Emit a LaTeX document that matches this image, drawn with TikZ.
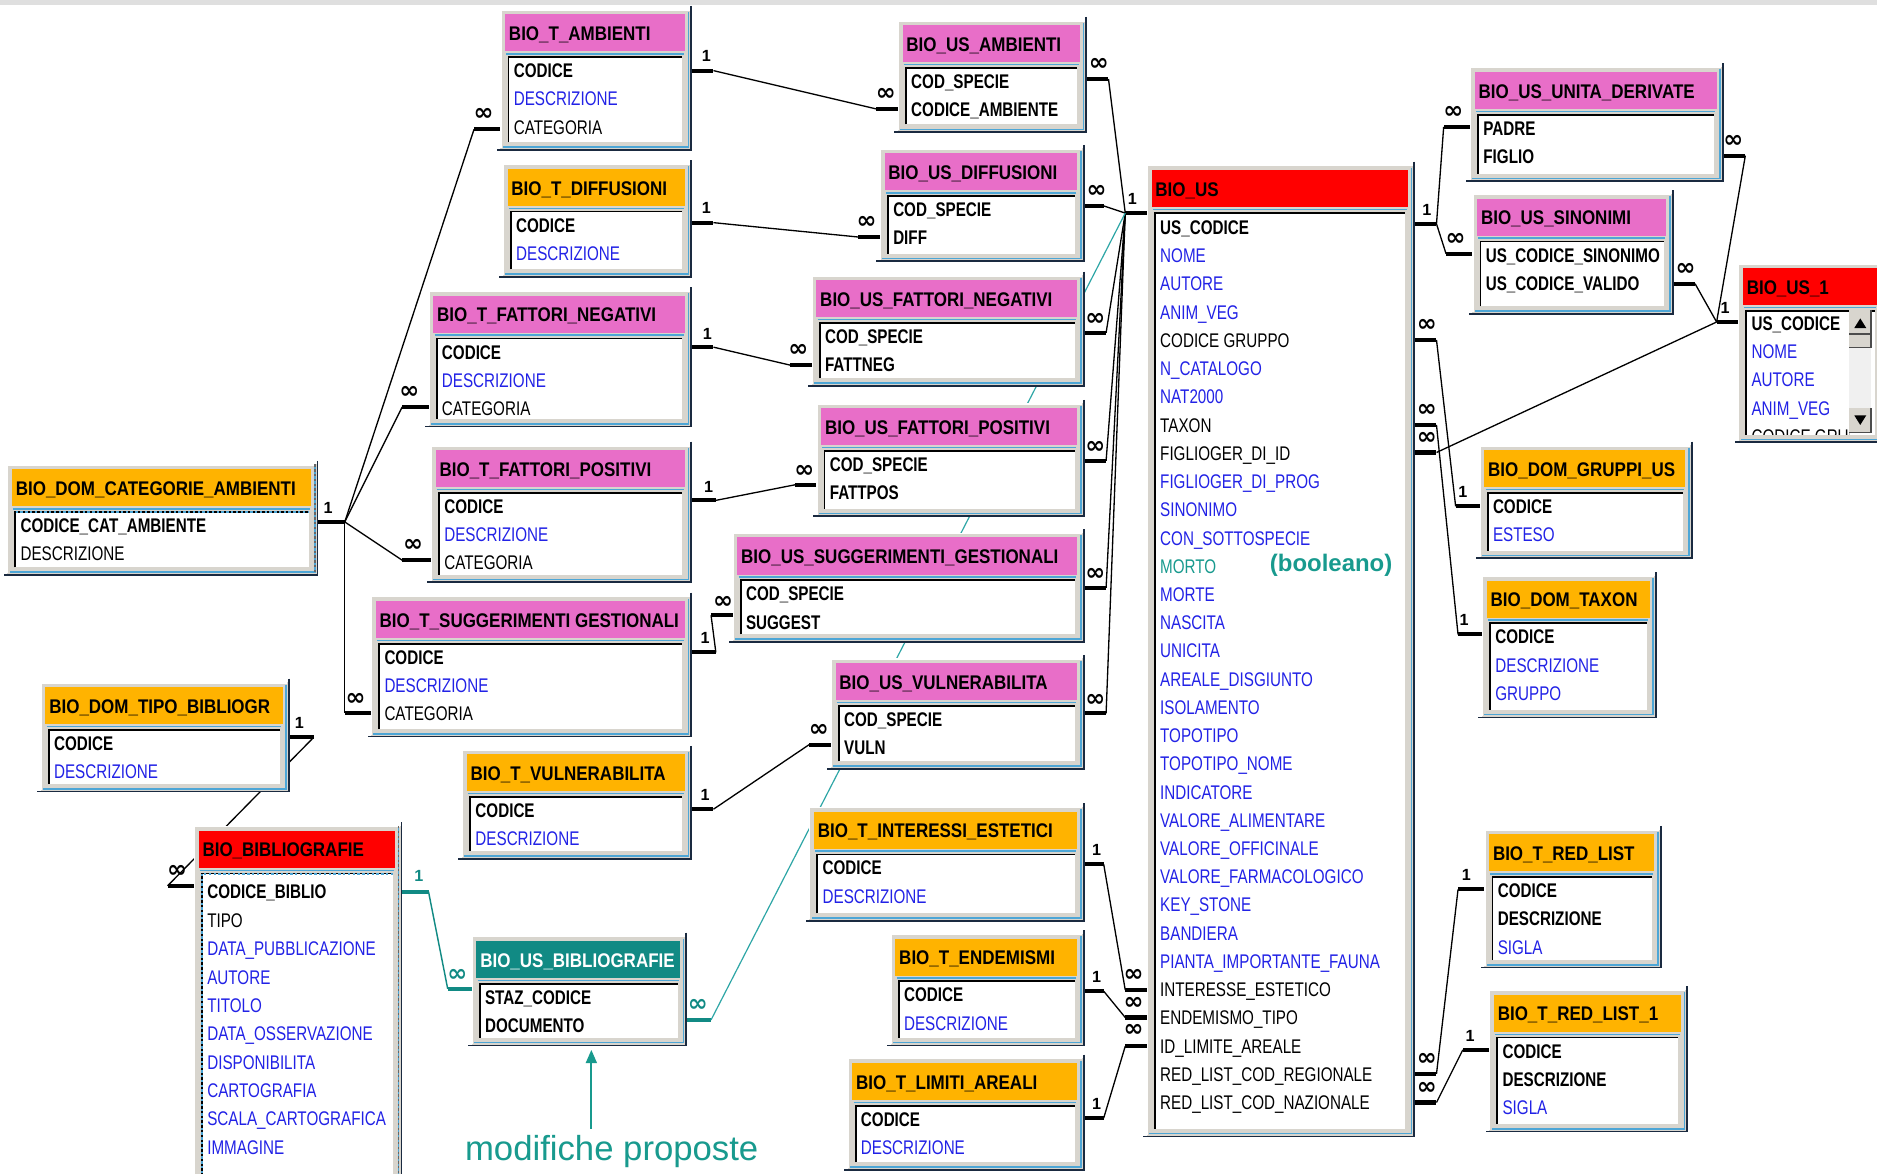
\documentclass[tikz,border=0pt]{standalone}
\usepackage{fontspec}
\setmainfont{Liberation Sans}
\newfontfamily\fldfont[FakeStretch=0.77]{Liberation Sans}
\newfontfamily\ttlfont[FakeStretch=0.86]{Liberation Sans}
\newfontfamily\infont{DejaVu Sans}
\usetikzlibrary{arrows.meta}
\definecolor{framegray}{HTML}{D8D5CE}
\definecolor{tpink}{HTML}{E86EC8}
\definecolor{torange}{HTML}{FFB300}
\definecolor{tred}{HTML}{FF0000}
\definecolor{tteal}{HTML}{118A84}
\definecolor{lblue}{HTML}{4DA6D6}
\definecolor{fblue}{HTML}{2222E6}
\definecolor{tealtxt}{HTML}{189A8E}
\definecolor{tealline}{HTML}{2EA6A6}
\definecolor{edgedark}{HTML}{1A2A40}
\tikzset{
 fld/.style={anchor=west, inner sep=0pt, text height=11.8pt, text depth=0pt, font={\fldfont\fontsize{16.5}{18}\selectfont}},
 fk/.style={text=black, font={\fldfont\fontsize{16.5}{18}\selectfont\bfseries}},
 fb/.style={text=fblue},
 fn/.style={text=black},
 ft/.style={text=tealtxt},
 ttl/.style={anchor=west, inner sep=0pt, text height=11.8pt, text depth=0pt, font={\ttlfont\fontsize{16.5}{18}\selectfont\bfseries}},
 stub/.style={line width=3.4pt},
 rel/.style={line width=1.1pt, black},
 trel/.style={line width=1pt, tealline},
 onel/.style={inner sep=0pt, font={\fontsize{13.5}{15}\selectfont\bfseries}},
 infl/.style={inner sep=0pt, font={\infont\fontsize{20}{21}\selectfont\bfseries}},
}
\newcommand\rowstart{51}
\newcommand\rowsep{23.6}
\newcommand\dbt[9]{%
  \fill[framegray] (#2,#3) rectangle (#4,#5);
  \draw[white, line width=1pt] ({#2+0.5},{#5-2}) -- ({#2+0.5},{#3+0.5}) -- ({#4-2},{#3+0.5});
  \fill[#6] ({#2+4},{#3+4}) rectangle ({#4-6},{#3+35});
  \draw[lblue, line width=1.3pt] ({#2+5},{#3+37}) -- ({#4-7},{#3+37});
  \fill[white] ({#2+6},{#3+39}) rectangle ({#4-8},{#5-7});
  \draw[black, line width=1.5pt] ({#2+6.75},{#5-7}) -- ({#2+6.75},{#3+39.75}) -- ({#4-8},{#3+39.75});
  \draw[lblue, line width=1.3pt] ({#4-3},{#3+2}) -- ({#4-3},{#5-3}) -- ({#2+2},{#5-3});
  \draw[edgedark, line width=1.4pt] ({#4-0.7},{#3-3}) -- ({#4-0.7},{#5-0.7}) -- ({#2-3},{#5-0.7});
  \node[ttl, text=#7] (#1) at ({#2+7},{#3+20}) {#8};
  \foreach \fsty/\ftxt [count=\fno] in {#9} {%
    \node[fld,\fsty] (#1-\fno) at ({#2+11},{#3+\rowstart+(\fno-1)*\rowsep}) {\ftxt};
  }%
}
\begin{document}
\begin{tikzpicture}[x=1pt,y=-1pt]
\useasboundingbox (0,0) rectangle (1568,980);
\clip (0,0) rectangle (1568,980);
\fill[white] (0,0) rectangle (1568,980);
\fill[gray!25] (0,0) rectangle (1568,4);

% ---------- stubs (1 side) ----------
\foreach \sNm/\sIn/\sOut/\sY/\sLx/\sLy in {
  aT1/578/596/59/590/47, dT1/578/596/186/590/174, nT1/578/596/290/591/279,
  pT1/578/598/418/592/407, gT1/578/598/545/589/533, vT1/578/596/676/589/664,
  cat1/266/288/436/274/424, tip1/242/262/616/250/604, us1/958/940/178/946/166,
  ie1/906/922/722/916/710, en1/906/922/828/916/816, li1/906/922/934/916/922,
  usR1/1182/1200/187/1192/175, gr1/1236/1216/423/1222/411, tx1/1238/1218/530/1223/518,
  u11/1452/1434/269/1441/257, rl1/1240/1218/743/1225/731, rn1/1244/1222/877/1228/865} {
  \coordinate (\sNm-i) at (\sIn,\sY);
  \coordinate (\sNm-o) at (\sOut,\sY);
  \draw[stub] (\sNm-i) -- (\sNm-o);
  \node[onel] (\sNm-l) at (\sLx,\sLy) {1};
}
% ---------- stubs (many side) ----------
\foreach \sNm/\sIn/\sOut/\sY/\sLx/\sLy in {
  aU/750/732/91/740/79, dU/735/717/198/724/186, nU/678/660/305/667/293,
  pU/682/664/405/672/394, gU/612/594/514/604/503, vU/694/676/622/684/610,
  catA/418/396/108/404/96, catN/358/336/340/342/328, catP/360/336/468/345/456,
  catS/310/288/596/297/584, tipB/162/140/740/148/728,
  uA/908/926/66/918/54, uD/906/922/172/916/160, uN/906/924/278/915/267,
  uP/906/924/385/915/374, uS/906/924/491/915/480, uV/906/924/596/915/585,
  usIE/958/940/827/947/815, usEN/958/940/850/947/838, usLI/958/940/874/947/861,
  udL/1228/1206/106/1214/94, siL/1230/1208/212/1216/200,
  usGR/1182/1200/284/1192/272, usTX/1182/1200/355/1192/343, usFG/1182/1200/378/1192/366,
  udR/1440/1458/130/1448/118, siR/1398/1416/237/1408/225,
  usRR/1182/1200/897/1192/885, usRN/1182/1200/921/1192/909} {
  \coordinate (\sNm-i) at (\sIn,\sY);
  \coordinate (\sNm-o) at (\sOut,\sY);
  \draw[stub] (\sNm-i) -- (\sNm-o);
  \node[infl] (\sNm-l) at (\sLx,\sLy) {∞};
}
% teal stubs
\coordinate (bib1-i) at (336,745); \coordinate (bib1-o) at (358,745);
\draw[stub, tteal] (bib1-i) -- (bib1-o);
\node[onel, text=tteal] (bib1-l) at (350,732) {1};
\coordinate (bibU-i) at (394,826); \coordinate (bibU-o) at (374,826);
\draw[stub, tteal] (bibU-i) -- (bibU-o);
\node[infl, text=tteal] (bibU-l) at (382,815) {∞};
\coordinate (ubT-i) at (574,852); \coordinate (ubT-o) at (594,852);
\draw[stub, tteal] (ubT-i) -- (ubT-o);
\node[infl, text=tteal] (ubT-l) at (583,840) {∞};

% ---------- connector lines ----------
\draw[rel] (aT1-o) -- (aU-o);
\draw[rel] (dT1-o) -- (dU-o);
\draw[rel] (nT1-o) -- (nU-o);
\draw[rel] (pT1-o) -- (pU-o);
\draw[rel] (gT1-o) -- (gU-o);
\draw[rel] (vT1-o) -- (vU-o);
\draw[rel] (cat1-o) -- (catA-o);
\draw[rel] (cat1-o) -- (catN-o);
\draw[rel] (cat1-o) -- (catP-o);
\draw[rel] (cat1-o) -- (catS-o);
\draw[rel] (tip1-o) -- (tipB-o);
\foreach \sNm in {uA,uD,uN,uP,uS,uV} { \draw[rel] (\sNm-o) -- (us1-o); }
\draw[rel] (ie1-o) -- (usIE-o);
\draw[rel] (en1-o) -- (usEN-o);
\draw[rel] (li1-o) -- (usLI-o);
\draw[rel] (usR1-o) -- (udL-o);
\draw[rel] (usR1-o) -- (siL-o);
\draw[rel] (usGR-o) -- (gr1-o);
\draw[rel] (usTX-o) -- (tx1-o);
\draw[rel] (usFG-o) -- (u11-o);
\draw[rel] (udR-o) -- (u11-o);
\draw[rel] (siR-o) -- (u11-o);
\draw[rel] (usRR-o) -- (rl1-o);
\draw[rel] (usRN-o) -- (rn1-o);
\draw[line width=1.2pt, tteal] (bib1-o) -- (bibU-o);
\draw[trel] (ubT-o) -- (us1-o);

% ---------- tables ----------
\dbt{AMB}{418}{8}{578}{126}{tpink}{black}{BIO\_T\_AMBIENTI}{fk/CODICE, fb/DESCRIZIONE, fn/CATEGORIA}
\dbt{DIF}{420}{137}{578}{232}{torange}{black}{BIO\_T\_DIFFUSIONI}{fk/CODICE, fb/DESCRIZIONE}
\dbt{FNEG}{358}{243}{578}{357}{tpink}{black}{BIO\_T\_FATTORI\_NEGATIVI}{fk/CODICE, fb/DESCRIZIONE, fn/CATEGORIA}
\dbt{FPOS}{360}{372}{578}{487}{tpink}{black}{BIO\_T\_FATTORI\_POSITIVI}{fk/CODICE, fb/DESCRIZIONE, fn/CATEGORIA}
\dbt{SUGG}{310}{498}{578}{616}{tpink}{black}{BIO\_T\_SUGGERIMENTI GESTIONALI}{fk/CODICE, fb/DESCRIZIONE, fn/CATEGORIA}
\dbt{CAT}{6}{388}{266}{481}{torange}{black}{BIO\_DOM\_CATEGORIE\_AMBIENTI}{fk/CODICE\_CAT\_AMBIENTE, fn/DESCRIZIONE}
\draw[lblue, line width=1.6pt, dash pattern=on 2pt off 2pt] (13,427.75) -- (258,427.75);
\draw[black!60, line width=1.4pt, dash pattern=on 2pt off 2pt] (263,388) -- (263,478);
\dbt{TIPO}{34}{570}{242}{662}{torange}{black}{BIO\_DOM\_TIPO\_BIBLIOGR}{fk/CODICE, fb/DESCRIZIONE}
{\renewcommand\rowstart{55}\renewcommand\rowsep{23.7}%
\dbt{BIB}{162}{690}{336}{995}{tred}{black}{BIO\_BIBLIOGRAFIE}{fk/CODICE\_BIBLIO, fn/TIPO, fb/DATA\_PUBBLICAZIONE, fb/AUTORE, fb/TITOLO, fb/DATA\_OSSERVAZIONE, fb/DISPONIBILITA, fb/CARTOGRAFIA, fb/SCALA\_CARTOGRAFICA, fb/IMMAGINE}}
\draw[lblue, line width=1.6pt, dash pattern=on 2pt off 2pt] (168.75,988) -- (168.75,729.75) -- (328,729.75);
\draw[black!60, line width=1.4pt, dash pattern=on 2pt off 2pt] (333,690) -- (333,990);
\dbt{VUL}{386}{626}{578}{718}{torange}{black}{BIO\_T\_VULNERABILITA}{fk/CODICE, fb/DESCRIZIONE}
\dbt{USBIB}{394}{782}{574}{874}{tteal}{white}{BIO\_US\_BIBLIOGRAFIE}{fk/STAZ\_CODICE, fk/DOCUMENTO}
\dbt{USAMB}{750}{17}{908}{111}{tpink}{black}{BIO\_US\_AMBIENTI}{fk/COD\_SPECIE, fk/CODICE\_AMBIENTE}
\dbt{USDIF}{735}{124}{906}{219}{tpink}{black}{BIO\_US\_DIFFUSIONI}{fk/COD\_SPECIE, fk/DIFF}
\dbt{USFNEG}{678}{230}{906}{323}{tpink}{black}{BIO\_US\_FATTORI\_NEGATIVI}{fk/COD\_SPECIE, fk/FATTNEG}
\dbt{USFPOS}{682}{337}{906}{432}{tpink}{black}{BIO\_US\_FATTORI\_POSITIVI}{fk/COD\_SPECIE, fk/FATTPOS}
\dbt{USSUGG}{612}{445}{906}{537}{tpink}{black}{BIO\_US\_SUGGERIMENTI\_GESTIONALI}{fk/COD\_SPECIE, fk/SUGGEST}
\dbt{USVUL}{694}{550}{906}{643}{tpink}{black}{BIO\_US\_VULNERABILITA}{fk/COD\_SPECIE, fk/VULN}
\dbt{IE}{676}{674}{906}{770}{torange}{black}{BIO\_T\_INTERESSI\_ESTETICI}{fk/CODICE, fb/DESCRIZIONE}
\dbt{EN}{744}{780}{906}{874}{torange}{black}{BIO\_T\_ENDEMISMI}{fk/CODICE, fb/DESCRIZIONE}
\dbt{LI}{708}{884}{906}{978}{torange}{black}{BIO\_T\_LIMITI\_AREALI}{fk/CODICE, fb/DESCRIZIONE}
{\renewcommand\rowstart{52}\renewcommand\rowsep{23.58}%
\dbt{US}{958}{138}{1182}{950}{tred}{black}{BIO\_US}{fk/US\_CODICE, fb/NOME, fb/AUTORE, fb/ANIM\_VEG, fn/CODICE GRUPPO, fb/N\_CATALOGO, fb/NAT2000, fn/TAXON, fn/FIGLIOGER\_DI\_ID, fb/FIGLIOGER\_DI\_PROG, fb/SINONIMO, fb/CON\_SOTTOSPECIE, ft/MORTO, fb/MORTE, fb/NASCITA, fb/UNICITA, fb/AREALE\_DISGIUNTO, fb/ISOLAMENTO, fb/TOPOTIPO, fb/TOPOTIPO\_NOME, fb/INDICATORE, fb/VALORE\_ALIMENTARE, fb/VALORE\_OFFICINALE, fb/VALORE\_FARMACOLOGICO, fb/KEY\_STONE, fb/BANDIERA, fb/PIANTA\_IMPORTANTE\_FAUNA, fn/INTERESSE\_ESTETICO, fn/ENDEMISMO\_TIPO, fn/ID\_LIMITE\_AREALE, fn/RED\_LIST\_COD\_REGIONALE, fn/RED\_LIST\_COD\_NAZIONALE}}
\dbt{UD}{1228}{56}{1440}{152}{tpink}{black}{BIO\_US\_UNITA\_DERIVATE}{fk/PADRE, fk/FIGLIO}
\dbt{SI}{1230}{162}{1398}{263}{tpink}{black}{BIO\_US\_SINONIMI}{fk/US\_CODICE\_SINONIMO, fk/US\_CODICE\_VALIDO}
{\renewcommand\rowstart{50}%
\dbt{US1}{1452}{220}{1574}{370}{tred}{black}{BIO\_US\_1}{fk/US\_CODICE, fb/NOME, fb/AUTORE, fb/ANIM\_VEG}}
\begin{scope}
  \clip (1458,259) rectangle (1545,363);
  \node[fld,fn] (US1-5) at (1463,364.4) {CODICE GRUPPO};
\end{scope}
% scrollbar of BIO_US_1
\fill[gray!12] (1545,259) rectangle (1563,362);
\fill[framegray] (1545,259) rectangle (1563,279);
\draw[black!70, line width=1pt] (1545,279) -- (1563,279) -- (1563,259);
\fill[black] (1549,274) -- (1559,274) -- (1554,266) -- cycle;
\fill[framegray] (1545,280) rectangle (1563,290);
\draw[black!70, line width=1pt] (1545,290) -- (1563,290) -- (1563,280);
\fill[framegray] (1545,341) rectangle (1563,361);
\draw[black!70, line width=1pt] (1545,361) -- (1563,361) -- (1563,341);
\fill[black] (1549,347) -- (1559,347) -- (1554,355) -- cycle;

\dbt{GR}{1236}{372}{1414}{467}{torange}{black}{BIO\_DOM\_GRUPPI\_US}{fk/CODICE, fb/ESTESO}
\dbt{TX}{1238}{481}{1384}{600}{torange}{black}{BIO\_DOM\_TAXON}{fk/CODICE, fb/DESCRIZIONE, fb/GRUPPO}
\dbt{RL}{1240}{693}{1388}{809}{torange}{black}{BIO\_T\_RED\_LIST}{fk/CODICE, fk/DESCRIZIONE, fb/SIGLA}
\dbt{RL1}{1244}{827}{1410}{946}{torange}{black}{BIO\_T\_RED\_LIST\_1}{fk/CODICE, fk/DESCRIZIONE, fb/SIGLA}

% ---------- annotations ----------
\node[inner sep=0pt, text=tealtxt, font={\fontsize{20}{22}\selectfont\bfseries}] (bool) at (1112,472) {(booleano)};
\node[inner sep=0pt, text=tealtxt, font={\fontsize{29}{32}\selectfont}] (mp) at (511,962) {modifiche proposte};
\coordinate (arrBase) at (494,943);
\coordinate (arrTip) at (494,877);
\draw[tealtxt, line width=1.8pt, -{Triangle[length=11pt,width=9pt]}] (arrBase) -- (arrTip);
\end{tikzpicture}
\end{document}
